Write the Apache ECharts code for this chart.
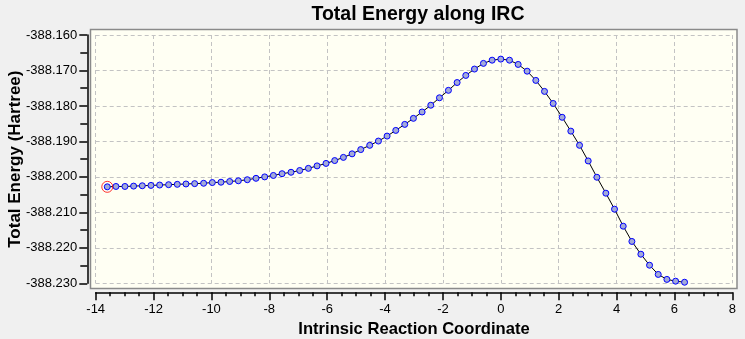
<!DOCTYPE html>
<html>
<head>
<meta charset="utf-8">
<script src="https://cdn.jsdelivr.net/npm/echarts@6/dist/echarts.min.js"></script>
<style>
  html, body { margin: 0; padding: 0; background: #f0f0f0; }
  #chart { width: 745px; height: 339px; }
</style>
</head>
<body>
<div id="chart"></div>
<script>
// IRC path: reaction coordinate (amu^1/2 bohr) and total energy (Hartree)
const ircCoord = [
  -13.60, -13.30, -12.99, -12.69, -12.39, -12.09, -11.79, -11.48, -11.18, -10.88,
  -10.58, -10.27, -9.97, -9.67, -9.37, -9.07, -8.76, -8.46, -8.16, -7.86,
  -7.56, -7.25, -6.95, -6.65, -6.35, -6.04, -5.74, -5.44, -5.14, -4.84,
  -4.53, -4.23, -3.93, -3.63, -3.32, -3.02, -2.72, -2.42, -2.12, -1.81,
  -1.51, -1.21, -0.91, -0.60, -0.30, 0.00, 0.30, 0.60, 0.91, 1.21,
  1.51, 1.81, 2.12, 2.42, 2.72, 3.02, 3.32, 3.63, 3.93, 4.23,
  4.53, 4.84, 5.14, 5.44, 5.74, 6.04, 6.35
];
const totalEnergy = [
  -388.2028, -388.2027, -388.2027, -388.2026, -388.2025, -388.2024, -388.2023, -388.2022, -388.2021, -388.2020,
  -388.2019, -388.2018, -388.2016, -388.2015, -388.2013, -388.2011, -388.2008, -388.2004, -388.2000, -388.1996,
  -388.1991, -388.1987, -388.1982, -388.1976, -388.1969, -388.1962, -388.1954, -388.1945, -388.1935, -388.1923,
  -388.1911, -388.1899, -388.1885, -388.1869, -388.1852, -388.1835, -388.1817, -388.1798, -388.1777, -388.1756,
  -388.1734, -388.1714, -388.1696, -388.1680, -388.1671, -388.1668, -388.1671, -388.1683, -388.1702, -388.1728,
  -388.1759, -388.1793, -388.1832, -388.1871, -388.1911, -388.1955, -388.2001, -388.2046, -388.2091, -388.2139,
  -388.2182, -388.2218, -388.2249, -388.2275, -388.2289, -388.2294, -388.2297
];
// index of the currently selected point on the path
const selectedIndex = 0;

const xRange = { min: -14, max: 8, step: 2 };
const yRange = { min: -388.230, max: -388.160, step: 0.01 };

const titleText = 'Total Energy along IRC';
const xName = 'Intrinsic Reaction Coordinate';
const yName = 'Total Energy (Hartree)';

const font = '"Liberation Sans", Arial, sans-serif';

const pathData = ircCoord.map((x, i) => [x, totalEnergy[i]]);
const selectedData = [[ircCoord[selectedIndex], totalEnergy[selectedIndex]]];

const chart = echarts.init(document.getElementById('chart'), null, { renderer: 'canvas' });

chart.setOption({
  animation: false,
  backgroundColor: '#f0f0f0',
  textStyle: { fontFamily: font },
  title: {
    text: titleText,
    left: 413,
    textAlign: 'center',
    top: 0,
    textStyle: { fontFamily: font, fontSize: 19.5, fontWeight: 'bold', color: '#000' }
  },
  grid: {
    left: 95.7, right: 12.7, top: 35, bottom: 55.7,
    containLabel: false,
    outerBoundsMode: 'none'
  },
  graphic: [{
    type: 'rect',
    z: -100,
    shape: { x: 90.5, y: 29.5, width: 646.5, height: 259 },
    style: { fill: '#fffff3', stroke: '#8a8a8a', lineWidth: 1.5 }
  }],
  xAxis: {
    type: 'value',
    min: xRange.min, max: xRange.max, interval: xRange.step,
    offset: 9,
    name: xName,
    nameLocation: 'middle',
    nameGap: 29,
    nameMoveOverlap: false,
    nameTextStyle: { fontFamily: font, fontSize: 16.6, fontWeight: 'bold', color: '#000' },
    axisLine: { show: true, onZero: false, lineStyle: { color: '#000', width: 1.5 } },
    axisTick: { show: true, length: 8, lineStyle: { color: '#000', width: 1.5 } },
    minorTick: { show: true, splitNumber: 4, length: 4, lineStyle: { color: '#000', width: 1.5 } },
    axisLabel: { margin: 11, fontFamily: font, fontSize: 13, color: '#000' },
    splitLine: { show: true, lineStyle: { color: '#c3c3c3', type: [4, 3], width: 1 } }
  },
  yAxis: {
    type: 'value',
    min: yRange.min, max: yRange.max, interval: yRange.step,
    offset: 8.4,
    name: yName,
    nameLocation: 'middle',
    nameGap: 63,
    nameMoveOverlap: false,
    nameTextStyle: { fontFamily: font, fontSize: 17, fontWeight: 'bold', color: '#000' },
    axisLine: { show: true, onZero: false, lineStyle: { color: '#000', width: 1.5 } },
    axisTick: { show: true, length: 8, lineStyle: { color: '#000', width: 1.5 } },
    minorTick: { show: true, splitNumber: 2, length: 7, lineStyle: { color: '#000', width: 1.5 } },
    axisLabel: {
      margin: 10, fontFamily: font, fontSize: 13, color: '#000',
      formatter: v => v.toFixed(3)
    },
    splitLine: { show: true, lineStyle: { color: '#c3c3c3', type: [4, 3], width: 1 } }
  },
  series: [
    {
      type: 'line',
      data: pathData,
      showSymbol: true,
      symbol: 'circle',
      symbolSize: 6,
      itemStyle: { color: '#a3aad8', borderColor: '#0000ff', borderWidth: 1 },
      lineStyle: { color: '#000', width: 1 },
      emphasis: { disabled: true },
      z: 3
    },
    {
      type: 'scatter',
      data: selectedData,
      symbol: 'circle',
      symbolSize: 11,
      itemStyle: { color: 'rgba(0,0,0,0)', borderColor: '#ff0000', borderWidth: 1 },
      emphasis: { disabled: true },
      z: 4
    }
  ]
});
</script>
</body>
</html>
